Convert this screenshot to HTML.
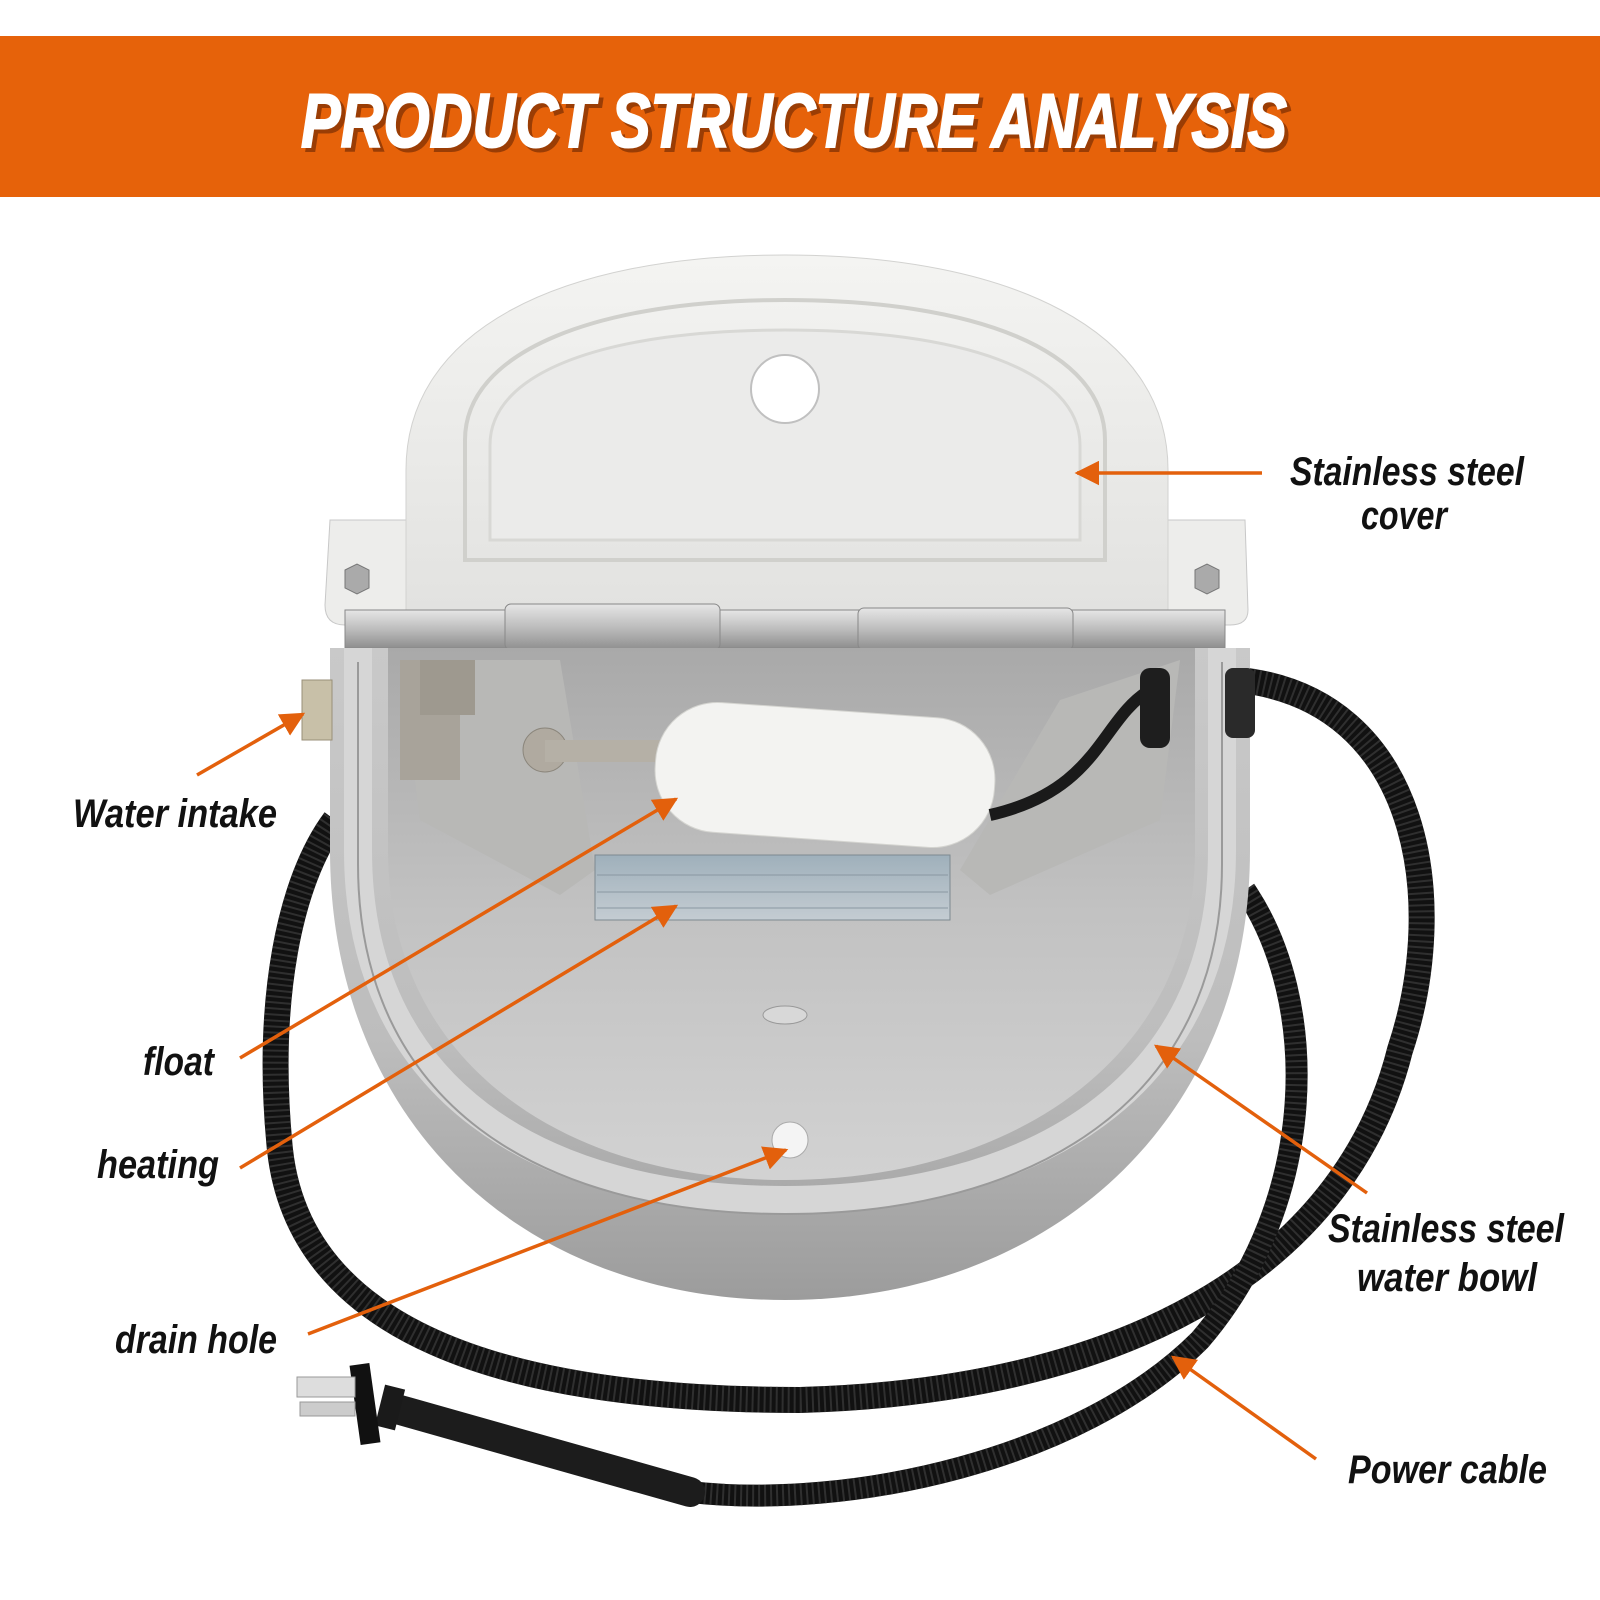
<!DOCTYPE html>
<html><head><meta charset="utf-8"><style>
html,body{margin:0;padding:0;background:#fff;}
svg{display:block;}
.lab{font-family:"Liberation Sans Narrow","Liberation Sans",sans-serif;font-weight:bold;font-style:italic;font-size:40px;fill:#111;}
</style></head><body>
<svg width="1600" height="1600" viewBox="0 0 1600 1600" xmlns="http://www.w3.org/2000/svg">
<defs>
<linearGradient id="cov" x1="0" y1="0" x2="0" y2="1"><stop offset="0" stop-color="#f4f4f2"/><stop offset="1" stop-color="#e2e2e0"/></linearGradient>
<linearGradient id="bowlOut" x1="0" y1="0" x2="0" y2="1"><stop offset="0" stop-color="#c9c9c9"/><stop offset="0.6" stop-color="#bdbdbd"/><stop offset="1" stop-color="#9c9c9c"/></linearGradient>
<linearGradient id="bowlIn" x1="0" y1="0" x2="0" y2="1"><stop offset="0" stop-color="#a9a9a9"/><stop offset="0.5" stop-color="#c2c2c2"/><stop offset="1" stop-color="#d2d2d2"/></linearGradient>
<linearGradient id="bar" x1="0" y1="0" x2="0" y2="1"><stop offset="0" stop-color="#e6e6e6"/><stop offset="0.5" stop-color="#bdbdbd"/><stop offset="1" stop-color="#8e8e8e"/></linearGradient>
<linearGradient id="heat" x1="0" y1="0" x2="0" y2="1"><stop offset="0" stop-color="#9fb0bb"/><stop offset="1" stop-color="#c4ccd2"/></linearGradient>
<marker id="ah" viewBox="0 0 10 10" refX="9" refY="5" markerWidth="7" markerHeight="7" orient="auto"><path d="M0,0 L10,5 L0,10 z" fill="#e3600c"/></marker>
</defs>
<rect x="0" y="36" width="1600" height="161" fill="#e6620a"/>
<text x="794" y="147" text-anchor="middle" textLength="986" lengthAdjust="spacingAndGlyphs" font-family="Liberation Sans Narrow,Liberation Sans,sans-serif" font-weight="bold" font-style="italic" font-size="76" fill="#9a3d05" stroke="#9a3d05" stroke-width="2" dx="4" dy="4">PRODUCT STRUCTURE ANALYSIS</text>
<text x="794" y="147" text-anchor="middle" textLength="986" lengthAdjust="spacingAndGlyphs" font-family="Liberation Sans Narrow,Liberation Sans,sans-serif" font-weight="bold" font-style="italic" font-size="76" fill="#fff" stroke="#fff" stroke-width="2">PRODUCT STRUCTURE ANALYSIS</text>

<path d="M1240,680 C1420,700 1450,900 1400,1050 C1350,1250 1150,1390 800,1400 C500,1400 300,1330 280,1150 C265,1000 290,880 335,820" fill="none" stroke="#111" stroke-width="26"/>
<path d="M1240,680 C1420,700 1450,900 1400,1050 C1350,1250 1150,1390 800,1400 C500,1400 300,1330 280,1150 C265,1000 290,880 335,820" fill="none" stroke="#444" stroke-width="26" stroke-dasharray="2 4" opacity="0.6"/>
<path d="M1245,890 C1320,1000 1320,1200 1200,1340 C1080,1460 850,1510 690,1492" fill="none" stroke="#111" stroke-width="22"/>
<path d="M1245,890 C1320,1000 1320,1200 1200,1340 C1080,1460 850,1510 690,1492" fill="none" stroke="#444" stroke-width="22" stroke-dasharray="2 4" opacity="0.6"/>
<path d="M690,1492 L400,1410" stroke="#1c1c1c" stroke-width="30" stroke-linecap="round"/>
<path d="M400,1410 L380,1405" stroke="#1a1a1a" stroke-width="42"/>
<rect x="355" y="1364" width="20" height="80" fill="#111" transform="rotate(-8 365 1404)"/>
<rect x="297" y="1377" width="58" height="20" fill="#ddd" stroke="#999"/>
<rect x="300" y="1402" width="55" height="14" fill="#ccc" stroke="#999"/>

<path d="M330,520 L1245,520 L1248,610 Q1248,625 1230,625 L345,625 Q325,625 325,605 Z" fill="#ededeb" stroke="#c8c8c8"/>
<path d="M406,612 L406,470 C406,330 560,255 785,255 C1010,255 1168,330 1168,470 L1168,612 Z" fill="url(#cov)" stroke="#d2d2d0"/>
<path d="M465,560 L465,440 C465,350 600,300 785,300 C975,300 1105,350 1105,440 L1105,560 Z" fill="none" stroke="#d0d0cc" stroke-width="4"/>
<path d="M490,540 L490,445 C490,370 610,330 785,330 C960,330 1080,370 1080,445 L1080,540 Z" fill="#ebebea" stroke="#d8d8d5" stroke-width="3"/>
<circle cx="785" cy="389" r="34" fill="#fff" stroke="#c0c0c0" stroke-width="2"/>
<polygon points="345,570 357,564 369,570 369,588 357,594 345,588" fill="#aaa" stroke="#777"/>
<polygon points="1195,570 1207,564 1219,570 1219,588 1207,594 1195,588" fill="#aaa" stroke="#777"/>
<rect x="345" y="610" width="880" height="38" fill="url(#bar)" stroke="#888"/>
<rect x="505" y="604" width="215" height="46" rx="6" fill="url(#bar)" stroke="#888"/>
<rect x="858" y="608" width="215" height="42" rx="6" fill="url(#bar)" stroke="#888"/>

<path d="M330,648 L330,850 C330,1120 520,1300 785,1300 C1050,1300 1250,1120 1250,850 L1250,648 Z" fill="url(#bowlOut)"/>
<path d="M388,648 L388,850 C388,1060 560,1180 785,1180 C1010,1180 1195,1060 1195,850 L1195,648 Z" fill="url(#bowlIn)"/>
<path d="M358,648 L358,850 C358,1090 540,1200 785,1200 C1030,1200 1222,1090 1222,850 L1222,648" fill="none" stroke="#d6d6d6" stroke-width="28"/>
<path d="M358,648 L358,850 C358,1090 540,1200 785,1200 C1030,1200 1222,1090 1222,850 L1222,648" fill="none" stroke="#9a9a9a" stroke-width="2" transform="translate(0,14)"/>
<ellipse cx="785" cy="1015" rx="22" ry="9" fill="#d8d8d8" stroke="#999"/>
<circle cx="790" cy="1140" r="18" fill="#f4f4f4" stroke="#aaa"/>
<path d="M400,660 L560,660 L595,870 L560,895 L420,820 Z" fill="#b8b8b6"/>
<path d="M1180,660 L1060,700 L960,870 L990,895 L1160,820 Z" fill="#b8b8b6"/>
<rect x="400" y="660" width="60" height="120" fill="#a8a39a"/>
<rect x="420" y="660" width="55" height="55" fill="#9e998f"/>
<circle cx="545" cy="750" r="22" fill="#b0aaa0" stroke="#8b867c"/>
<rect x="545" y="740" width="120" height="22" fill="#b5b0a6"/>
<rect x="595" y="855" width="355" height="65" fill="url(#heat)" stroke="#7d8990"/>
<line x1="597" y1="875" x2="948" y2="875" stroke="#8a98a2"/><line x1="597" y1="892" x2="948" y2="892" stroke="#8a98a2"/><line x1="597" y1="908" x2="948" y2="908" stroke="#8a98a2"/>
<rect x="655" y="710" width="340" height="130" rx="62" fill="#f3f3f1" stroke="#d4d4d0" transform="rotate(4 825 775)"/>
<path d="M1150,690 C1100,720 1100,790 990,815" fill="none" stroke="#1a1a1a" stroke-width="12"/>
<rect x="1140" y="668" width="30" height="80" rx="10" fill="#1e1e1e"/>
<rect x="1225" y="668" width="30" height="70" rx="8" fill="#2a2a2a"/>
<rect x="302" y="680" width="30" height="60" fill="#c8c0a8" stroke="#998f78"/>

<g stroke="#e3600c" stroke-width="3.5" fill="none" marker-end="url(#ah)">
<line x1="1262" y1="473" x2="1077" y2="473"/>
<line x1="197" y1="775" x2="303" y2="714"/>
<line x1="240" y1="1058" x2="676" y2="799"/>
<line x1="240" y1="1168" x2="676" y2="906"/>
<line x1="308" y1="1334" x2="786" y2="1150"/>
<line x1="1367" y1="1193" x2="1156" y2="1046"/>
<line x1="1316" y1="1459" x2="1173" y2="1357"/>
</g>

<text class="lab" x="1290" y="485" textLength="234" lengthAdjust="spacingAndGlyphs">Stainless steel</text>
<text class="lab" x="1361" y="529" textLength="86" lengthAdjust="spacingAndGlyphs">cover</text>
<text class="lab" x="73" y="827" textLength="204" lengthAdjust="spacingAndGlyphs">Water intake</text>
<text class="lab" x="143" y="1075" textLength="71" lengthAdjust="spacingAndGlyphs">float</text>
<text class="lab" x="97" y="1178" textLength="122" lengthAdjust="spacingAndGlyphs">heating</text>
<text class="lab" x="115" y="1353" textLength="162" lengthAdjust="spacingAndGlyphs">drain hole</text>
<text class="lab" x="1328" y="1242" textLength="236" lengthAdjust="spacingAndGlyphs">Stainless steel</text>
<text class="lab" x="1357" y="1291" textLength="180" lengthAdjust="spacingAndGlyphs">water bowl</text>
<text class="lab" x="1348" y="1483" textLength="199" lengthAdjust="spacingAndGlyphs">Power cable</text>
</svg>
</body></html>
